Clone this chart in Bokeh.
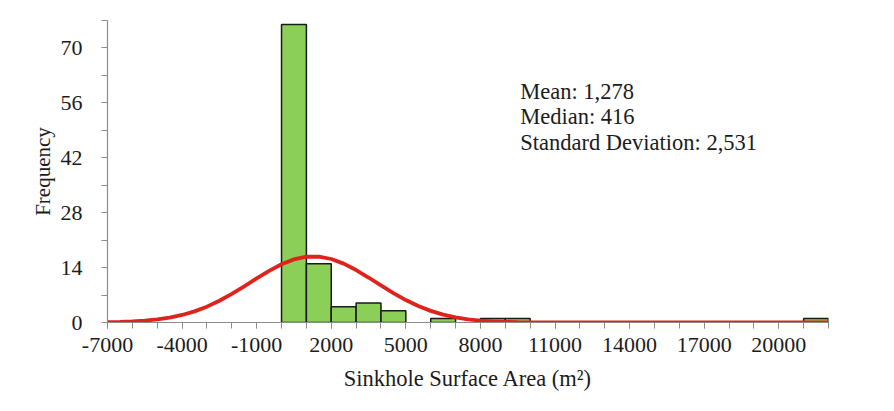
from bokeh.plotting import figure
from bokeh.models import Range1d, FixedTicker, Label
from bokeh.embed import file_html
from bokeh.resources import INLINE

# Histogram bins (m^2) and counts
bin_start = [0, 1000, 2000, 3000, 4000, 6000, 8000, 9000, 21000]
bin_end = [1000, 2000, 3000, 4000, 5000, 7000, 9000, 10000, 22000]
counts = [76, 15, 4, 5, 3, 1, 1, 1, 1]

# Fitted normal curve
curve_x = [-7000, -6500, -6000, -5500, -5000, -4500, -4000, -3500, -3000, -2500,
           -2000, -1500, -1000, -500, 0, 500, 1000, 1500, 2000, 2500,
           3000, 3500, 4000, 4500, 5000, 5500, 6000, 6500, 7000, 7500,
           8000, 8500, 9000, 9500, 10000, 10500, 11000, 12000, 14000, 17000,
           20000, 22000]
curve_y = [0.08, 0.15, 0.27, 0.47, 0.78, 1.24, 1.92, 2.84, 4.04, 5.54,
           7.29, 9.23, 11.25, 13.18, 14.85, 16.09, 16.77, 16.80, 16.19, 15.01,
           13.38, 11.47, 9.46, 7.50, 5.72, 4.19, 2.96, 2.01, 1.31, 0.82,
           0.50, 0.29, 0.16, 0.09, 0.05, 0.02, 0.01, 0.0, 0.0, 0.0,
           0.0, 0.0]

x_ticks = [-7000, -4000, -1000, 2000, 5000, 8000, 11000, 14000, 17000, 20000]
x_minor = list(range(-7000, 22001, 1000))
y_ticks = [0, 14, 28, 42, 56, 70]
y_minor = [7, 21, 35, 49, 63, 77]

stats_lines = ["Mean: 1,278", "Median: 416", "Standard Deviation: 2,531"]

FONT = "Liberation Serif"
TXT = "#1c1c1c"
AX = "#8c8c8c"

p = figure(width=886, height=403, output_backend="svg", toolbar_location=None,
           x_range=Range1d(-7000, 22000), y_range=Range1d(0, 77),
           min_border_left=107, min_border_right=58, min_border_top=20,
           min_border_bottom=81)
p.outline_line_color = None
p.grid.grid_line_color = None
p.background_fill_color = "white"
p.border_fill_color = "white"

p.quad(left=bin_start, right=bin_end, bottom=0, top=counts,
       fill_color="#8bcf59", line_color="#1a1a1a", line_width=1.5)

p.line(curve_x, curve_y, line_color="#e0221c", line_width=3.8)

p.xaxis.ticker = FixedTicker(ticks=x_ticks, minor_ticks=x_minor)
p.yaxis.ticker = FixedTicker(ticks=y_ticks, minor_ticks=y_minor)
p.xaxis.major_label_overrides = {t: str(t) for t in x_ticks}
p.yaxis.major_label_overrides = {t: str(t) for t in y_ticks}

for ax in (p.xaxis, p.yaxis):
    ax.axis_line_color = AX
    ax.axis_line_width = 1.2
    ax.major_tick_line_color = AX
    ax.minor_tick_line_color = AX
    ax.major_tick_in = 0
    ax.major_tick_out = 6
    ax.minor_tick_in = 0
    ax.minor_tick_out = 6
    ax.major_label_text_font = FONT
    ax.major_label_text_font_size = "22px"
    ax.major_label_text_color = TXT
    ax.axis_label_text_font = FONT
    ax.axis_label_text_font_style = "normal"
    ax.axis_label_text_color = TXT

p.xaxis.axis_label = "Sinkhole Surface Area (m²)"
p.xaxis.axis_label_text_font_size = "22.5px"
p.xaxis.major_label_standoff = 9
p.xaxis.axis_label_standoff = 11
p.yaxis.axis_label = "Frequency"
p.yaxis.axis_label_text_font_size = "21px"
p.yaxis.major_label_standoff = 19
p.yaxis.axis_label_standoff = 3

for i, line in enumerate(stats_lines):
    p.add_layout(Label(x=9600, y=59.0 - i * 6.5, text=line,
                       text_font=FONT, text_font_size="22.5px",
                       text_color=TXT, text_baseline="alphabetic"))

open("out.html", "w").write(file_html(p, INLINE))
